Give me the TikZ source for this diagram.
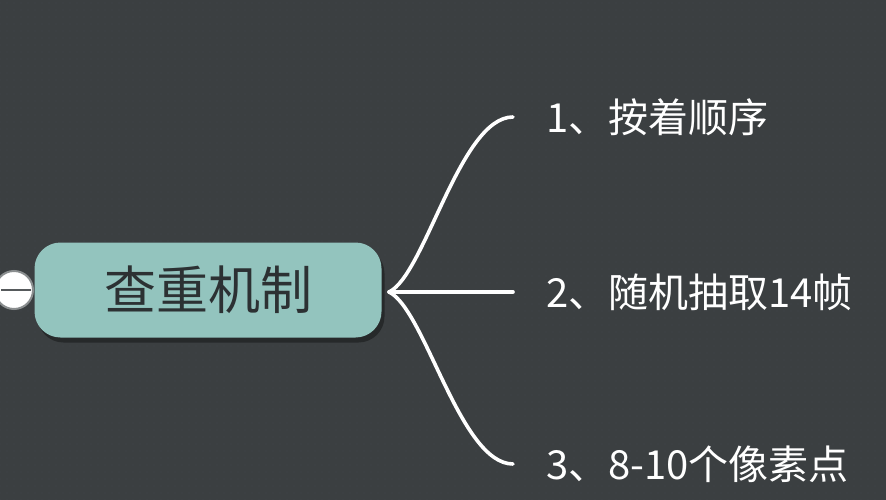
\documentclass[tikz,border=0pt]{standalone}
\usepackage{fontspec}
\setmainfont{Noto Sans CJK SC}
\usetikzlibrary{shadows,patterns.meta}

\definecolor{board}{HTML}{3B3F41}
\definecolor{boarddot}{HTML}{43474A}
\definecolor{topicfill}{HTML}{93C4BE}
\definecolor{topictext}{HTML}{2C3133}
\definecolor{foldring}{HTML}{8A8E8F}

\tikzset{
    topic/.style={draw=none, fill=topicfill, rounded corners=26pt,
        minimum width=347pt, minimum height=95pt, text=topictext,
        font=\fontsize{52}{60}\selectfont,
        drop shadow={shadow xshift=3pt, shadow yshift=-5pt, fill=black, opacity=0.35}},
    subtopic/.style={anchor=west, inner xsep=33pt, inner ysep=0pt, text=white,
        font=\fontsize{40}{48}\selectfont},
    branch/.style={draw=white, line width=3.6pt, line cap=round},
}

\begin{document}
\begin{tikzpicture}[x=1pt,y=-1pt]

    \fill[board] (0,0) rectangle (886,500);
    \fill[pattern={Dots[radius=0.7pt,distance=7pt]}, pattern color=boarddot] (0,0) rectangle (886,500);
    \useasboundingbox (0,0) rectangle (886,500);

    \node[circle, fill=white, draw=foldring, line width=2pt, minimum size=38pt, inner sep=0pt] (fold) at (14,290) {};
    \draw[topictext!80, line width=1.6pt] ([xshift=-13pt]fold.center) -- ([xshift=17pt]fold.center);
    \node[topic] (root) at (208,290) {查重机制};

    \coordinate (hub) at (389,292);
    \node[subtopic] (b1) at (513,117) {1、按着顺序};
    \node[subtopic] (b2) at (513,292) {2、随机抽取14帧};
    \node[subtopic] (b3) at (513,464) {3、8-10个像素点};

    \draw[branch] (hub) .. controls (425,275) and (460,117) .. (b1.west);
    \draw[branch] (hub) -- (b2.west);
    \draw[branch] (hub) .. controls (425,309) and (460,464) .. (b3.west);
\end{tikzpicture}
\end{document}
